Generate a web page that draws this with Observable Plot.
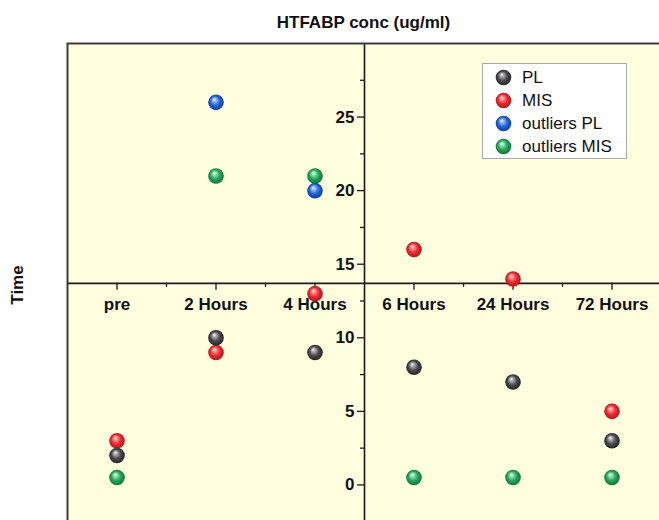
<!DOCTYPE html>
<html><head><meta charset="utf-8">
<script src="https://cdn.jsdelivr.net/npm/d3@7"></script>
<script src="https://cdn.jsdelivr.net/npm/@observablehq/plot@0.6"></script>
<style>
html,body{margin:0;padding:0;background:#fff;overflow:hidden}
#wrap{position:relative;width:659px;height:520px;overflow:hidden;font-family:"Liberation Sans",Arial,sans-serif;color:#111}
#title{position:absolute;left:0;width:727px;top:13px;text-align:center;font-weight:bold;font-size:17px;line-height:20px}
#ylab{position:absolute;left:18px;top:285px;transform:translate(-50%,-50%) rotate(-90deg);font-weight:bold;font-size:17px;white-space:nowrap}
#legend{position:absolute;left:482px;top:63px;width:143px;height:92px;border:1px solid #a8a8a8;background:#fff;padding-top:2px;box-sizing:content-box}
.row{height:23px;display:flex;align-items:center;font-size:17px}
.row svg{margin-left:12px;margin-right:10px}
#plot{position:absolute;left:0;top:0;width:664px}
#plot svg{max-width:none !important}
</style>
</head><body>
<svg width="0" height="0" style="position:absolute">
  <defs id="grads"></defs>
</svg>
<div id="wrap">
  <div id="plot"></div>
  <div id="title">HTFABP conc (ug/ml)</div>
  <div id="ylab">Time</div>
  <div id="legend"></div>
</div>
<script>
const categories = ["pre", "2 Hours", "4 Hours", "6 Hours", "24 Hours", "72 Hours"];
const seriesNames = ["PL", "MIS", "outliers PL", "outliers MIS"];
const plValues = [2, 10, 9, 8, 7, 3];
const misValues = [3, 9, 13, 16, 14, 5];
const outliersPLValues = [null, 26, 20, null, null, null];
const outliersMISValues = [0.5, 21, 21, 0.5, 0.5, 0.5];
const yTickValues = [0, 5, 10, 15, 20, 25];
const yMinorTicks = [-2.5, 2.5, 7.5, 12.5, 17.5, 22.5, 27.5];
const xMinorTicks = [1.5, 2.5, 4.5, 5.5];
const yAxisAt = 3.5;      // y axis crosses between "4 Hours" and "6 Hours"
const xAxisAt = 13.7;     // x axis crosses at this Time value

const seriesColors = {
  "PL":           {id: "gPL",  light: "#b4b4b8", base: "#4a4a4e", dark: "#1e1e22"},
  "MIS":          {id: "gMIS", light: "#ff9a9a", base: "#ea2a30", dark: "#a8141a"},
  "outliers PL":  {id: "gOPL", light: "#9cc0ff", base: "#2463d8", dark: "#0c3a94"},
  "outliers MIS": {id: "gOMIS",light: "#9ae6b4", base: "#25a55c", dark: "#0d6a36"}
};

// gradients
const ns = "http://www.w3.org/2000/svg";
const defs = document.getElementById("grads");
for (const name of seriesNames) {
  const c = seriesColors[name];
  const g = document.createElementNS(ns, "radialGradient");
  g.setAttribute("id", c.id);
  g.setAttribute("cx", "0.5"); g.setAttribute("cy", "0.5"); g.setAttribute("r", "0.55");
  g.setAttribute("fx", "0.38"); g.setAttribute("fy", "0.3");
  [[0, "#ffffff"], [0.18, c.light], [0.55, c.base], [1, c.dark]].forEach(([o, col]) => {
    const s = document.createElementNS(ns, "stop");
    s.setAttribute("offset", o); s.setAttribute("stop-color", col);
    g.appendChild(s);
  });
  defs.appendChild(g);
}

const seriesValues = {
  "PL": plValues, "MIS": misValues,
  "outliers PL": outliersPLValues, "outliers MIS": outliersMISValues
};
const rows = [];
for (const name of seriesNames) {
  seriesValues[name].forEach((v, i) => {
    if (v != null) rows.push({series: name, x: i + 1, y: v});
  });
}
const drawOrder = ["MIS", "PL", "outliers MIS", "outliers PL"];

const font = {fontSize: 17, fontWeight: "bold", fill: "#111"};

const chart = Plot.plot({
  width: 664,
  height: 560,
  marginLeft: 67,
  marginRight: 3,
  marginTop: 43,
  marginBottom: 2,
  style: {fontFamily: '"Liberation Sans", Arial, sans-serif', background: "transparent", overflow: "visible", maxWidth: "none"},
  x: {domain: [0.5, 6.5], axis: null},
  y: {domain: [-5, 30], axis: null},
  marks: [
    Plot.frame({fill: "#ffffdf", stroke: null}),
    Plot.ruleY([xAxisAt], {stroke: "#1a1a1a", strokeWidth: 1.6}),
    Plot.ruleX([yAxisAt], {stroke: "#1a1a1a", strokeWidth: 1.6}),
    Plot.axisX({y: xAxisAt, ticks: [1, 2, 3, 4, 5, 6], tickFormat: d => categories[d - 1],
      tickSize: 7, tickPadding: 8, label: null, stroke: "#1a1a1a", strokeWidth: 1.3, ...font}),
    Plot.axisX({y: xAxisAt, ticks: xMinorTicks, tickSize: 4, text: null, label: null, stroke: "#1a1a1a", strokeWidth: 1.3}),
    Plot.axisY({x: yAxisAt, ticks: yTickValues, tickSize: 7, tickPadding: 3, label: null,
      stroke: "#1a1a1a", strokeWidth: 1.3, ...font}),
    Plot.axisY({x: yAxisAt, ticks: yMinorTicks, tickSize: 4, text: null, label: null, stroke: "#1a1a1a", strokeWidth: 1.3}),
    ...drawOrder.map(name => Plot.dot(rows.filter(d => d.series === name), {
      x: "x", y: "y", r: 7.8, fill: `url(#${seriesColors[name].id})`, stroke: null
    })),
    Plot.frame({stroke: "#3a3a3a", strokeWidth: 2})
  ]
});
document.getElementById("plot").appendChild(chart);

// legend
const legend = document.getElementById("legend");
for (const name of seriesNames) {
  const row = document.createElement("div");
  row.className = "row";
  row.innerHTML = `<svg width="17" height="17"><circle cx="8.5" cy="8.5" r="7.8" fill="url(#${seriesColors[name].id})"></circle></svg><span>${name}</span>`;
  legend.appendChild(row);
}
</script>
</body></html>
